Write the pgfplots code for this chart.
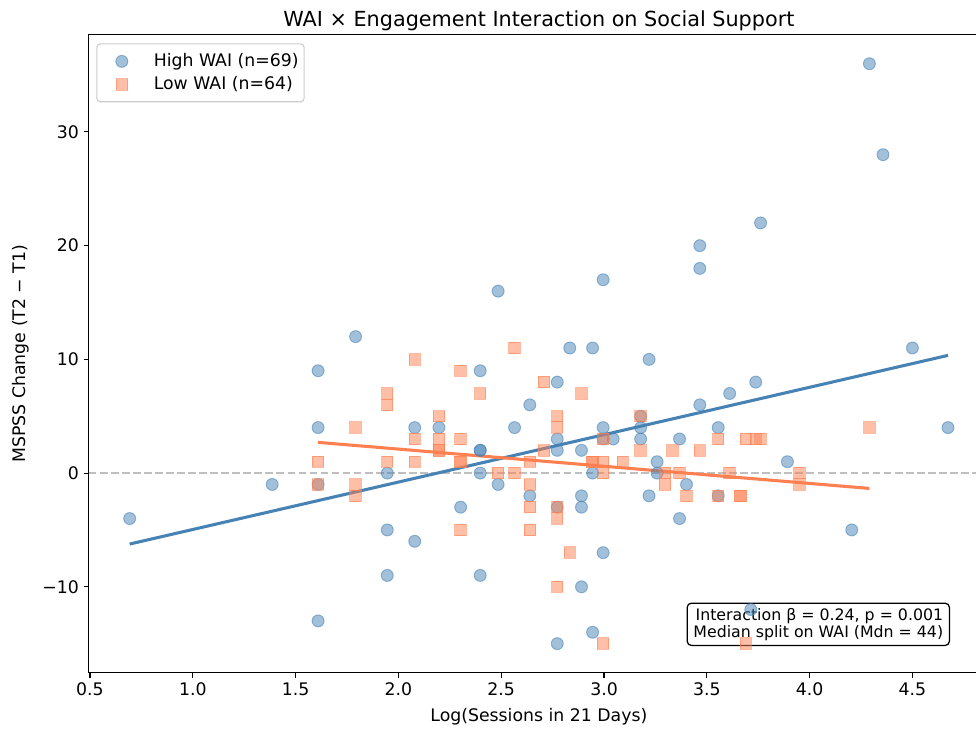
\documentclass[border=0pt]{standalone}
\usepackage{pgfplots}
\pgfplotsset{compat=1.18}
\usepackage{fontspec}
\setmainfont{DejaVu Sans}
\definecolor{steel}{HTML}{4682B4}
\definecolor{coral}{HTML}{FF7F50}

\pgfplotstableread{
x y
0.6931 -4
1.3863 -1
1.6094 9
1.6094 4
1.6094 -1
1.6094 -13
1.7918 12
1.9459 0
1.9459 -5
1.9459 -9
2.0794 4
2.0794 -6
2.1972 4
2.3026 -3
2.3979 9
2.3979 2
2.3979 2
2.3979 0
2.3979 -9
2.4849 16
2.4849 -1
2.5649 4
2.6391 6
2.6391 -2
2.7726 8
2.7726 3
2.7726 2
2.7726 -3
2.7726 -15
2.8332 11
2.8904 2
2.8904 -2
2.8904 -3
2.8904 -10
2.9444 11
2.9444 0
2.9444 -14
2.9957 17
2.9957 4
2.9957 3
2.9957 -7
3.0445 3
3.1781 5
3.1781 4
3.1781 3
3.2189 10
3.2189 -2
3.2581 1
3.2581 0
3.3673 3
3.3673 -4
3.4012 -1
3.4657 20
3.4657 18
3.4657 6
3.5553 4
3.5553 -2
3.6109 7
3.7136 -12
3.7377 8
3.7612 22
3.8918 1
4.2047 -5
4.2905 36
4.3567 28
4.4998 11
4.6728 4
}\high

\pgfplotstableread{
x y
1.6094 1
1.6094 -1
1.7918 4
1.7918 -1
1.7918 -2
1.9459 7
1.9459 6
1.9459 1
2.0794 10
2.0794 3
2.0794 1
2.1972 5
2.1972 3
2.1972 2
2.1972 2
2.3026 9
2.3026 3
2.3026 1
2.3026 1
2.3026 -5
2.3979 7
2.4849 0
2.5649 11
2.5649 0
2.6391 1
2.6391 -1
2.6391 -3
2.6391 -5
2.7081 8
2.7081 2
2.7726 5
2.7726 4
2.7726 -3
2.7726 -4
2.7726 -10
2.8332 -7
2.8904 7
2.9444 1
2.9444 1
2.9957 3
2.9957 1
2.9957 0
2.9957 -15
3.0910 1
3.1781 5
3.1781 2
3.2958 0
3.2958 -1
3.3322 2
3.3673 0
3.4012 -2
3.4657 2
3.5553 3
3.5553 -2
3.6109 0
3.6636 -2
3.6636 -2
3.6889 3
3.6889 -15
3.7377 3
3.7612 3
3.9512 0
3.9512 -1
4.2905 4
}\low

\begin{document}
\begin{tikzpicture}
\begin{axis}[
  name=ax,
  scale only axis,
  width=648.1bp, height=459.3bp,
  xmin=0.4941, xmax=4.8718, ymin=-17.55, ymax=38.55,
  xtick={0.5,1.0,1.5,2.0,2.5,3.0,3.5,4.0,4.5},
  xticklabels={0.5,1.0,1.5,2.0,2.5,3.0,3.5,4.0,4.5},
  ytick={-10,0,10,20,30},
  yticklabels={−10,0,10,20,30},
  tick pos=left,
  tick align=outside,
  major tick length=3.5bp,
  tick style={line width=0.8bp, color=black},
  axis line style={line width=0.8bp},
  ticklabel style={font=\fontsize{12.5}{14}\selectfont},
  title={WAI × Engagement Interaction on Social Support},
  title style={font=\fontsize{15}{18}\selectfont, at={(axis description cs:0.5,1)}, anchor=base, yshift=0bp, inner sep=0pt},
  xlabel={Log(Sessions in 21 Days)},
  xlabel style={font=\fontsize{12.5}{14}\selectfont, at={(axis description cs:0.5,0)}, anchor=north, yshift=-25.5bp, inner sep=0pt},
  ylabel={MSPSS Change (T2 − T1)},
  ylabel style={font=\fontsize{12.5}{14}\selectfont, at={(axis description cs:-0.0753,0.5)}, anchor=center, inner sep=0pt},
  legend style={at={(0,1)}, anchor=north west, xshift=5.4bp, yshift=-6.2bp,
    draw=black!20, line width=0.8bp, rounded corners=2.5bp, fill=white, fill opacity=0.8, text opacity=1,
    inner xsep=1bp, inner ysep=6.1bp, row sep=3.5bp,
    font=\fontsize{12.5}{14}\selectfont,
    nodes={inner xsep=3bp, inner ysep=0pt},
    cells={anchor=west}},
  legend image code/.code={\path[draw=none,fill=none] (-17bp,-6.5bp) rectangle (20bp,6.5bp); \draw[#1] plot coordinates {(0bp,0bp)};},
]
\addplot[gray!50, line width=1.5bp, dash pattern=on 5.55bp off 2.4bp, forget plot] coordinates {(0.4941,0) (4.8718,0)};
\addplot[only marks, mark=*, mark size=4.3bp, mark options={draw=steel, fill=steel, fill opacity=0.5, draw opacity=0.55, line width=0.7bp}] table[x=x,y=y] {\high};
\addlegendentry{High WAI (n=69)}
\addplot[only marks, mark=square*, mark size=4.1bp, mark options={draw=coral, fill=coral, fill opacity=0.5, draw opacity=0.55, line width=0.7bp}] table[x=x,y=y] {\low};
\addlegendentry{Low WAI (n=64)}
\addplot[steel, line width=2.2bp, forget plot] coordinates {(0.6931,-6.24) (4.6728,10.35)};
\addplot[coral, line width=2.2bp, forget plot] coordinates {(1.6094,2.70) (4.2905,-1.35)};
\node[draw=black, line width=0.9bp, rounded corners=3bp, fill=white, fill opacity=0.8, text opacity=1, align=right, inner xsep=4.5bp, inner ysep=3.5bp, font=\fontsize{11.4}{12.4}\selectfont, anchor=center] at (axis cs:4.042,-13.30) {Interaction β = 0.24, p = 0.001\\Median split on WAI (Mdn = 44)};
\end{axis}
\pgfresetboundingbox
\path[use as bounding box] ([xshift=-63.9bp,yshift=-42.1bp]ax.south west) rectangle ([xshift=638.8bp,yshift=25.0bp]ax.north west);
\end{tikzpicture}
\end{document}
